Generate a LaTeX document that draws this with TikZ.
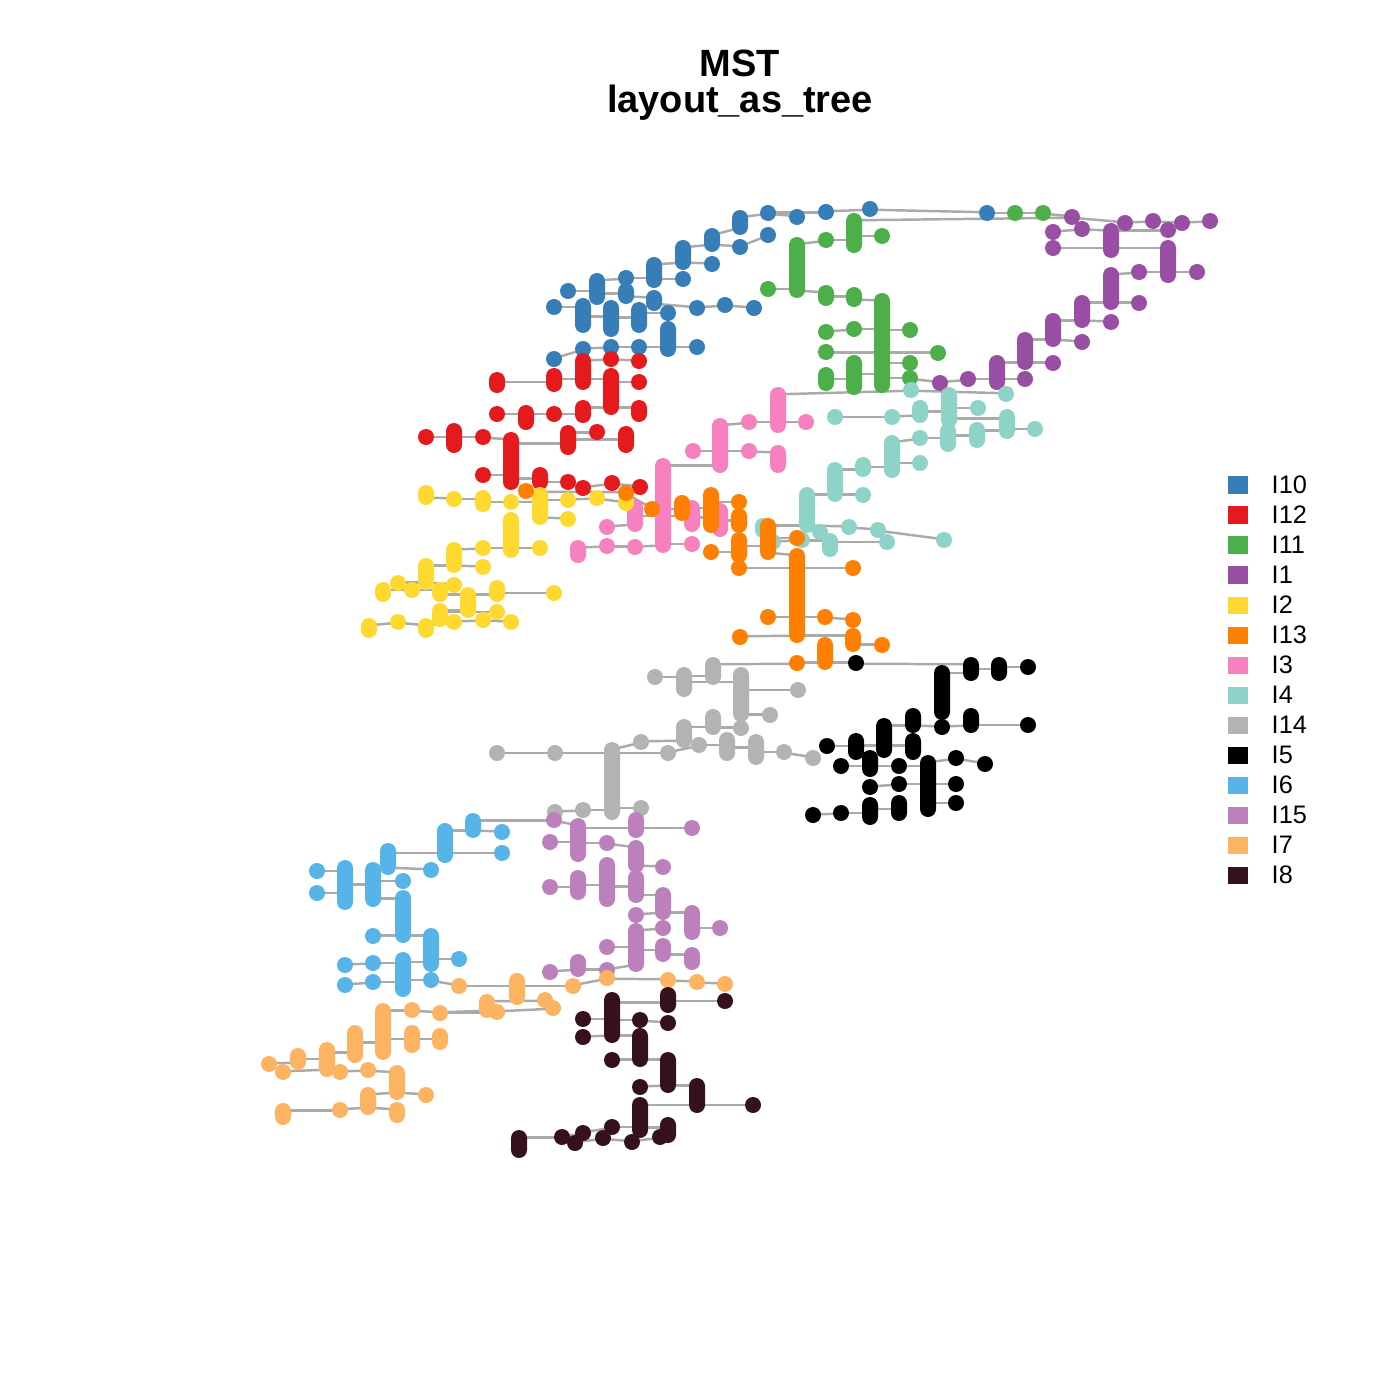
\documentclass[tikz,border=0pt]{standalone}
\usepackage{fontspec}
\setmainfont{Liberation Sans}
\usetikzlibrary{calc}
\pgfdeclarelayer{bg}
\pgfsetlayers{bg,main}

\definecolor{cI10}{RGB}{55,126,184}
\definecolor{cI12}{RGB}{228,26,28}
\definecolor{cI11}{RGB}{77,175,74}
\definecolor{cI1}{RGB}{152,78,163}
\definecolor{cI2}{RGB}{255,217,47}
\definecolor{cI13}{RGB}{255,127,0}
\definecolor{cI3}{RGB}{247,129,191}
\definecolor{cI4}{RGB}{141,211,199}
\definecolor{cI14}{RGB}{179,179,179}
\definecolor{cI5}{RGB}{0,0,0}
\definecolor{cI6}{RGB}{86,180,233}
\definecolor{cI15}{RGB}{188,128,189}
\definecolor{cI7}{RGB}{253,180,98}
\definecolor{cI8}{RGB}{53,16,31}
\definecolor{cEdge}{RGB}{170,170,170}

\tikzset{
  vx/.style={fill=#1, draw=none, inner sep=0pt, minimum width=0.16cm, rounded corners=0.08cm},
  lnk/.style={draw=cEdge, line width=0.7pt},
  legsq/.style={draw=none, inner sep=0pt, minimum width=0.2cm, minimum height=0.17cm},
  legtx/.style={anchor=west, inner sep=0pt, font=\fontsize{7.2}{8}\selectfont}
}

% one group of vertices: colour, then name/x/ytop/ybottom
\newcommand{\grp}[2]{%
  \foreach \nm/\px/\ya/\yb in {#2}
    \node[vx=#1, minimum height={(\yb-\ya)*0.01cm+0.16cm}] (\nm) at (\px,{(\ya+\yb)/2}) {};}
% edges between vertices, kept level where the two stacks overlap
\newcommand{\lnks}[1]{%
  \foreach \ea/\eb in {#1}
    \draw[lnk] let \p1=(\ea.south), \p2=(\ea.north), \p3=(\eb.south), \p4=(\eb.north),
      \p5=(\ea.center), \p6=(\eb.center),
      \n1={max(\y1,\y3)+2.2762pt}, \n2={min(\y2,\y4)-2.2762pt},
      \n3={ifthenelse(\n1<=\n2,(\n1+\n2)/2,min(max(\y6,\y1+2.2762pt),\y2-2.2762pt))},
      \n4={ifthenelse(\n1<=\n2,(\n1+\n2)/2,min(max(\y5,\y3+2.2762pt),\y4-2.2762pt))}
    in (\x5,{\n3*1pt}) -- (\x6,{\n4*1pt});}

\begin{document}
\begin{tikzpicture}[x=0.01cm, y=-0.01cm]
\useasboundingbox (0,0) rectangle (1400,1400);

% title
\node[font=\bfseries\fontsize{10.8}{13}\selectfont] (ttl1) at (740,63) {MST};
\node[font=\bfseries\fontsize{10.8}{13}\selectfont] (ttl2) at (740,103) {layout\_as\_tree};

% I10
\grp{cI10}{a1/768/213/213, a2/797/217/217, a3/826/212/212, a4/870/209/209, a5/987/213/213,
  a6/740/218/227, a7/740/247/247, a8/768/235/235, a9/712/236/244, a10/712/264/264,
  a11/683/248/262, a12/683/279/279, a13/654/265/280, a14/654/298/303, a15/626/278/278,
  a16/626/291/296, a17/597/281/297, a18/568/291/291, a19/554/307/307, a20/583/306/325,
  a21/611/308/329, a22/639/310/325, a23/668/313/313, a24/668/329/349, a25/697/308/308,
  a26/725/305/305, a27/754/308/308, a28/697/347/347, a29/583/349/349, a30/611/347/347,
  a31/639/347/347, a32/554/359/359}
% I11
\grp{cI11}{g1/1015/213/213, g2/1043/213/213, g3/797/245/290, g4/768/289/289, g5/826/240/240,
  g6/826/293/298, g7/826/332/332, g8/826/352/352, g9/826/375/383, g10/854/221/245,
  g11/882/236/236, g12/854/295/299, g13/882/301/385, g14/854/329/329, g15/910/330/330,
  g16/938/353/353, g17/854/363/387, g18/910/363/363, g19/910/378/378}
% I1
\grp{cI1}{p1/1072/217/217, p2/1082/229/229, p3/1053/232/232, p4/1053/248/248, p5/1111/231/250,
  p6/1125/223/223, p7/1153/221/221, p8/1168/230/230, p9/1182/223/223, p10/1210/221/221,
  p11/1168/248/275, p12/1197/272/272, p13/1139/272/272, p14/1111/275/302, p15/1139/303/303,
  p16/1082/303/320, p17/1111/322/322, p18/1053/321/339, p19/1082/342/342, p20/1025/340/362,
  p21/1053/363/363, p22/997/363/382, p23/1025/379/379, p24/968/379/379, p25/940/383/383}
% I4
\grp{cI4}{t1/911/390/390, t2/949/395/420, t3/920/408/415, t4/978/408/408, t5/1006/394/394,
  t6/1007/417/431, t7/1035/429/429, t8/892/417/417, t9/835/417/417, t10/920/438/438,
  t11/948/431/444, t12/977/430/440, t13/892/443/470, t14/920/463/463, t15/863/465/469,
  t16/835/470/494, t17/863/495/495, t18/807/495/525, t19/763/526/530, t20/773/542/542,
  t21/802/540/540, t22/820/532/532, t23/830/541/549, t24/849/527/527, t25/878/530/530,
  t26/887/542/542, t27/944/540/540}
% I3
\grp{cI3}{k1/778/395/425, k2/806/422/422, k3/749/422/422, k4/720/426/465, k5/693/451/451,
  k6/749/451/451, k7/778/453/465, k8/663/466/545, k9/635/508/524, k10/607/527/527,
  k11/578/548/555, k12/607/546/546, k13/635/547/547, k14/692/508/524, k15/692/544/544,
  k16/720/511/529}
% I12
\grp{cI12}{r1/497/380/385, r2/554/376/384, r3/583/361/382, r4/611/359/359, r5/611/376/407,
  r6/639/361/361, r7/639/382/382, r8/639/408/414, r9/497/414/414, r10/526/413/422,
  r11/554/414/414, r12/583/408/415, r13/426/437/437, r14/454/431/445, r15/483/437/437,
  r16/511/440/482, r17/483/475/475, r18/540/475/482, r19/568/433/447, r20/597/432/432,
  r21/626/434/445, r22/568/482/482, r23/583/488/488, r24/612/483/483, r25/640/487/487}
% I2
\grp{cI2}{y1/426/493/497, y2/454/499/499, y3/483/498/504, y4/511/502/502, y5/540/495/517,
  y6/568/500/500, y7/568/519/519, y8/597/498/498, y9/626/503/503, y10/511/520/550,
  y11/540/548/548, y12/483/548/548, y13/454/550/565, y14/483/567/567, y15/426/566/582,
  y16/398/583/583, y17/412/590/590, y18/383/590/594, y19/440/590/594, y20/454/585/585,
  y21/468/595/610, y22/497/588/594, y23/554/593/593, y24/440/611/619, y25/497/612/612,
  y26/454/622/622, y27/483/620/620, y28/511/622/622, y29/426/626/630, y30/398/622/622,
  y31/369/626/630}
% I13
\grp{cI13}{o1/526/491/491, o2/626/493/493, o3/652/509/509, o4/682/503/513, o5/711/495/525,
  o6/739/502/502, o7/739/516/525, o8/739/540/555, o9/739/568/568, o10/711/552/552,
  o11/768/526/552, o12/797/538/538, o13/797/556/635, o14/768/617/617, o15/825/617/617,
  o16/853/620/620, o17/853/636/644, o18/740/637/637, o19/882/645/645, o20/825/645/662,
  o21/797/663/663, o22/853/568/568}
% I14
\grp{cI14}{h1/497/753/753, h2/555/753/753, h3/612/750/812, h4/641/742/742, h5/668/753/753,
  h6/684/727/740, h7/699/745/745, h8/713/717/727, h9/727/740/753, h10/741/728/728,
  h11/756/742/757, h12/784/752/752, h13/813/758/758, h14/741/675/714, h15/770/715/715,
  h16/713/665/677, h17/684/675/689, h18/655/677/677, h19/798/690/690, h20/555/812/812,
  h21/583/810/810, h22/641/808/808}
% I5
\grp{cI5}{b1/856/663/663, b2/942/673/712, b3/971/665/673, b4/999/665/673, b5/1028/667/667,
  b6/913/716/725, b7/942/727/727, b8/971/716/725, b9/1028/725/725, b10/884/726/750,
  b11/856/741/752, b12/827/746/746, b13/913/741/752, b14/841/766/766, b15/870/758/769,
  b16/899/766/766, b17/928/763/809, b18/956/758/758, b19/985/764/764, b20/870/787/787,
  b21/899/784/784, b22/956/784/784, b23/870/805/817, b24/899/803/813, b25/956/803/803,
  b26/813/815/815, b27/841/813/813}
% I6
\grp{cI6}{c1/473/821/830, c2/502/832/832, c3/502/853/853, c4/445/831/855, c5/388/851/867,
  c6/431/870/870, c7/317/871/871, c8/345/868/902, c9/317/893/893, c10/373/870/899,
  c11/403/881/881, c12/403/898/935, c13/373/936/936, c14/431/936/964, c15/459/959/959,
  c16/345/965/965, c17/373/963/963, c18/403/960/989, c19/345/985/985, c20/373/982/982,
  c21/431/980/980}
% I15
\grp{cI15}{l1/554/820/820, l2/578/826/854, l3/636/820/830, l4/692/828/828, l5/550/842/842,
  l6/607/843/843, l7/636/848/865, l8/663/867/867, l9/607/865/899, l10/578/878/892,
  l11/550/887/887, l12/636/878/895, l13/663/895/912, l14/636/915/915, l15/692/913/932,
  l16/720/928/928, l17/663/928/928, l18/636/931/964, l19/663/946/954, l20/607/947/947,
  l21/692/955/962, l22/578/962/969, l23/550/972/972, l24/607/970/970}
% I7
\grp{cI7}{q1/459/986/986, q2/517/981/997, q3/573/986/986, q4/607/978/978, q5/668/980/980,
  q6/697/982/982, q7/725/984/984, q8/487/1002/1010, q9/497/1012/1012, q10/545/1000/1000,
  q11/553/1008/1008, q12/412/1010/1010, q13/440/1013/1013, q14/383/1011/1052, q15/355/1033/1055,
  q16/412/1033/1045, q17/440/1036/1042, q18/327/1050/1069, q19/298/1056/1062, q20/269/1064/1064,
  q21/283/1072/1072, q22/340/1072/1072, q23/368/1070/1070, q24/397/1073/1092, q25/426/1095/1095,
  q26/368/1095/1107, q27/340/1110/1110, q28/397/1110/1115, q29/283/1111/1117}
% I8
\grp{cI8}{d1/668/995/1005, d2/725/1001/1001, d3/612/1000/1035, d4/583/1019/1019, d5/583/1037/1037,
  d6/640/1020/1020, d7/668/1023/1023, d8/640/1036/1059, d9/612/1060/1060, d10/668/1060/1085,
  d11/640/1087/1087, d12/697/1086/1105, d13/753/1105/1105, d14/640/1105/1130, d15/519/1138/1150,
  d16/562/1137/1137, d17/575/1143/1143, d18/583/1133/1133, d19/603/1138/1138, d20/612/1127/1127,
  d21/632/1142/1142, d22/660/1137/1137, d23/668/1125/1135}

% tree edges
\begin{pgfonlayer}{bg}
\lnks{a32/a29, a29/a30, a30/a31, a31/a24, a24/a28, a19/a20, a20/a21, a21/a22, a22/a23,
  a23/a24, a22/a14, a14/a25, a25/a26, a26/a27, a18/a17, a17/a16, a16/a14, a17/a15, a15/a13,
  a13/a11, a13/a12, a11/a9, a11/a10, a9/a6, a9/a7, a7/a8, a6/a1, a1/a2, a1/a3, a3/a4, a4/a5}
\lnks{a5/g1, g1/g2, g2/p1, g4/g3, g3/g6, g3/g5, g5/g10, g10/g11, g10/p1, g6/g12, g12/g13,
  g7/g14, g14/g13, g13/g15, g8/g16, g9/g17, g17/g13, g13/g18, g13/g19, g19/p25}
\lnks{p3/p2, p2/p5, p5/p8, p4/p11, p1/p6, p6/p7, p7/p9, p9/p10, p11/p12, p13/p11, p14/p13,
  p14/p15, p16/p14, p16/p17, p18/p16, p18/p19, p20/p18, p20/p21, p22/p20, p22/p23, p24/p22, p25/p24}
\lnks{k1/t1, t1/t5, t9/t8, t8/t3, t3/t2, t2/t4, t2/t6, t6/t7, t10/t11, t11/t12, t12/t6,
  t13/t10, t13/t14, t15/t13, t16/t15, t16/t17, t18/t16, t19/t18, t18/t24, t24/t25, t25/t27,
  t20/t21, t21/t23, t23/t26, t18/t22}
\lnks{k3/k1, k1/k2, k5/k4, k4/k3, k4/k6, k6/k7, k8/k4, k11/k12, k12/k13, k13/k8, k10/k9,
  k9/k8, k8/k14, k14/k16, k8/k15}
\lnks{o1/o2, o2/o3, o3/o4, o4/o5, o5/o6, o5/o7, o10/o8, o8/o11, o11/o12, o11/o13, o9/o22,
  o14/o13, o13/o15, o15/o16, o18/o13, o13/o17, o17/o19, h16/o21, o21/o20, o20/b1}
\lnks{r1/r2, r2/r3, r3/r5, r5/r7, r3/r4, r4/r6, r9/r10, r10/r11, r11/r12, r12/r5, r5/r8,
  r13/r14, r14/r15, r15/r16, r16/r19, r19/r20, r19/r21, r17/r16, r16/r18, r18/r22, r22/r23,
  r23/r24, r24/r25}
\lnks{y1/y2, y2/y3, y3/y4, y4/y5, y5/y6, y6/y8, y8/y9, y5/y7, y12/y10, y10/y11, y13/y12,
  y13/y14, y15/y13, y16/y15, y15/y20, y18/y17, y17/y19, y19/y21, y21/y22, y22/y23, y24/y21,
  y24/y25, y31/y30, y30/y29, y29/y26, y26/y27, y27/y28}
\lnks{h1/h2, h2/h3, h3/h4, h4/h6, h6/h8, h8/h10, h3/h5, h5/h7, h7/h9, h9/h11, h11/h12,
  h12/h13, h18/h17, h17/h16, h17/h14, h14/h19, h14/h15, h20/h21, h21/h3, h3/h22}
\lnks{b1/b3, b3/b4, b4/b5, b2/b3, b6/b7, b7/b8, b8/b9, b10/b6, b12/b11, b11/b10, b10/b13,
  b14/b15, b15/b16, b16/b17, b17/b18, b18/b19, b20/b21, b21/b17, b17/b22, b26/b27, b27/b23,
  b23/b24, b17/b25}
\lnks{c1/c2, c4/c1, c4/c3, c5/c4, c5/c6, c7/c8, c8/c10, c10/c11, c9/c8, c10/c12, c13/c12,
  c12/c14, c14/c15, c16/c17, c17/c18, c18/c14, c19/c20, c20/c18, c18/c21, c21/q1, c1/l1}
\lnks{l1/l2, l2/l3, l3/l4, l5/l2, l2/l6, l6/l7, l7/l8, l11/l10, l10/l9, l9/l12, l12/l13,
  l14/l13, l13/l15, l15/l16, l20/l18, l18/l19, l19/l21, l23/l22, l22/l24, l24/l18, l18/l17}
\lnks{q1/q2, q2/q3, q3/q4, q4/q5, q5/q6, q6/q7, q14/q12, q12/q13, q13/q8, q8/q10, q13/q9,
  q9/q11, q20/q19, q19/q18, q18/q15, q15/q14, q14/q16, q16/q17, q21/q18, q18/q22, q22/q23,
  q23/q24, q24/q25, q29/q27, q27/q26, q26/q28, q26/q24}
\lnks{d3/d1, d1/d2, d4/d3, d3/d6, d6/d7, d5/d3, d3/d8, d9/d8, d8/d10, d11/d10, d10/d12,
  d12/d13, d14/d12, d15/d16, d16/d18, d18/d20, d20/d14, d17/d19, d19/d21, d21/d22, d22/d23, d14/d23}
\end{pgfonlayer}

% legend
\foreach \i/\lab in {0/I10, 1/I12, 2/I11, 3/I1, 4/I2, 5/I13, 6/I3, 7/I4, 8/I14, 9/I5,
  10/I6, 11/I15, 12/I7, 13/I8} {
  \node[legsq, fill=c\lab] (sq\lab) at (1238,{485+30*\i}) {};
  \node[legtx] (tx\lab) at (1271,{485+30*\i}) {\lab};
}
\end{tikzpicture}
\end{document}
